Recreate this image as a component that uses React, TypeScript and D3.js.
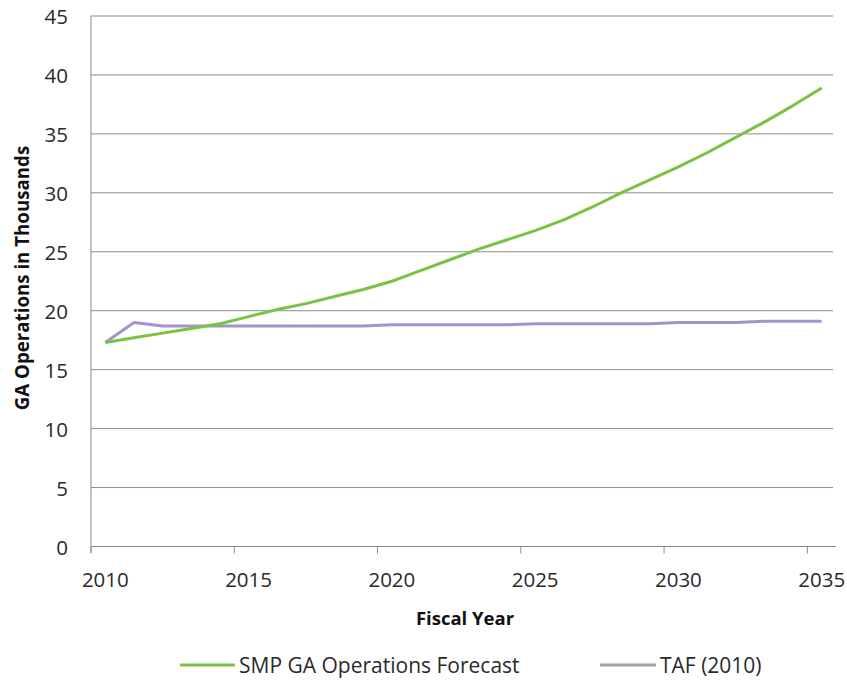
import React from "react";
import * as d3 from "d3";

// Fiscal years on the category axis
const years: number[] = [
  2010, 2011, 2012, 2013, 2014, 2015, 2016, 2017, 2018, 2019, 2020, 2021, 2022,
  2023, 2024, 2025, 2026, 2027, 2028, 2029, 2030, 2031, 2032, 2033, 2034, 2035,
];

// SMP GA operations forecast (thousands)
const smpForecast: number[] = [
  17.3, 17.7, 18.1, 18.5, 18.9, 19.5, 20.1, 20.6, 21.2, 21.8, 22.5, 23.4, 24.3,
  25.2, 26.0, 26.8, 27.7, 28.8, 30.0, 31.1, 32.2, 33.4, 34.7, 36.0, 37.4, 38.9,
];

// TAF (2010) GA operations (thousands)
const tafForecast: number[] = [
  17.3, 19.0, 18.7, 18.7, 18.7, 18.7, 18.7, 18.7, 18.7, 18.7, 18.8, 18.8, 18.8,
  18.8, 18.8, 18.9, 18.9, 18.9, 18.9, 18.9, 19.0, 19.0, 19.0, 19.1, 19.1, 19.1,
];

const yTicks: number[] = [0, 5, 10, 15, 20, 25, 30, 35, 40, 45];
const xLabelYears: number[] = [2010, 2015, 2020, 2025, 2030, 2035];

const seriesNames = ["SMP GA Operations Forecast", "TAF (2010)"];

const W = 847;
const H = 680;
const FONT = "'Open Sans', 'Noto Sans', sans-serif";

export default function App() {
  const left = 91;
  const right = 836;
  const top = 16;
  const bottom = 546.5;

  const x = d3
    .scaleBand<number>()
    .domain(years)
    .range([left, right])
    .paddingInner(0)
    .paddingOuter(0);
  const y = d3.scaleLinear().domain([0, 45]).range([bottom, top]);

  const cx = (yr: number) => (x(yr) ?? 0) + x.bandwidth() / 2;

  const line = d3
    .line<number>()
    .x((_, i) => cx(years[i]))
    .y((d) => y(d));

  const green = "#7cc242";
  const lavender = "#a593cf";
  const grid = "#8c8c8c";
  const tickColor = "#2a2a2a";

  return (
    <svg
      width={W}
      height={H}
      style={{ position: "absolute", left: 0, top: 0, background: "#fff" }}
      fontFamily={FONT}
    >
      {/* horizontal gridlines */}
      {yTicks.map((t) => (
        <line
          key={"g" + t}
          x1={left}
          x2={t === 0 ? right : 833}
          y1={y(t)}
          y2={y(t)}
          stroke={grid}
          strokeWidth={1}
        />
      ))}
      {/* y axis line */}
      <line x1={left} x2={left} y1={top} y2={bottom + 6} stroke={grid} strokeWidth={1} />
      {/* x tick marks at category boundaries */}
      {xLabelYears.map((yr) => (
        <line
          key={"t" + yr}
          x1={x(yr) ?? 0}
          x2={x(yr) ?? 0}
          y1={bottom}
          y2={bottom + 7}
          stroke={grid}
          strokeWidth={1}
        />
      ))}
      {/* y tick labels */}
      {yTicks.map((t) => (
        <text
          key={"yl" + t}
          x={68}
          y={y(t)}
          textAnchor="end"
          dominantBaseline="central"
          fontSize={20.5}
          fill={tickColor}
        >
          {t}
        </text>
      ))}
      {/* x tick labels */}
      {xLabelYears.map((yr) => (
        <text
          key={"xl" + yr}
          x={cx(yr)}
          y={579}
          textAnchor="middle"
          dominantBaseline="central"
          fontSize={20.5}
          fill={tickColor}
        >
          {yr}
        </text>
      ))}
      {/* axis titles */}
      <text
        x={465}
        y={617}
        textAnchor="middle"
        dominantBaseline="central"
        fontSize={18.5}
        fontWeight="bold"
        fill="#111"
      >
        Fiscal Year
      </text>
      <text
        transform={`translate(21, 278) rotate(-90)`}
        textAnchor="middle"
        dominantBaseline="central"
        fontSize={18.7}
        fontWeight="bold"
        fill="#111"
      >
        GA Operations in Thousands
      </text>

      {/* series */}
      <path
        d={line(tafForecast) ?? ""}
        fill="none"
        stroke={lavender}
        strokeWidth={3}
        strokeLinejoin="round"
      />
      <path
        d={line(smpForecast) ?? ""}
        fill="none"
        stroke={green}
        strokeWidth={3}
        strokeLinejoin="round"
      />

      {/* legend */}
      <line x1={180} x2={235} y1={665} y2={665} stroke={green} strokeWidth={3} />
      <text x={239} y={665} dominantBaseline="central" fontSize={21} fill={tickColor}>
        {seriesNames[0]}
      </text>
      <line x1={600} x2={656} y1={665} y2={665} stroke="#a3a3a3" strokeWidth={3} />
      <text x={660} y={665} dominantBaseline="central" fontSize={21} fill={tickColor}>
        {seriesNames[1]}
      </text>
    </svg>
  );
}
